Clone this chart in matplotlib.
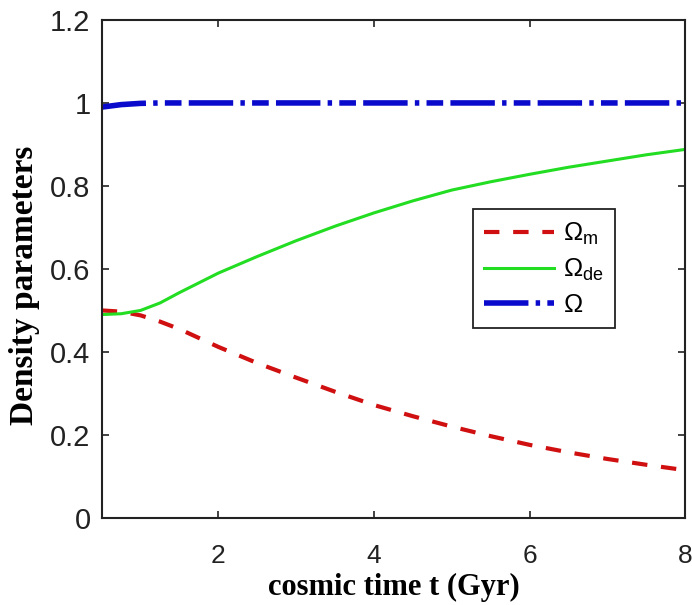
import matplotlib.pyplot as plt

t = [0.5, 0.75, 1.0, 1.25, 1.5, 2.0, 2.5, 3.0, 3.5, 4.0, 4.5, 5.0, 5.5, 6.0, 6.5, 7.0, 7.5, 8.0]
omega_m = [0.500, 0.497, 0.488, 0.473, 0.455, 0.412, 0.373, 0.338, 0.304, 0.272, 0.245, 0.220, 0.197, 0.176, 0.158, 0.142, 0.128, 0.115]
omega_de = [0.490, 0.492, 0.500, 0.518, 0.543, 0.590, 0.630, 0.668, 0.703, 0.735, 0.764, 0.790, 0.810, 0.828, 0.845, 0.860, 0.875, 0.888]
omega = [0.990, 0.996, 0.999, 1.0, 1.0, 1.0, 1.0, 1.0, 1.0, 1.0, 1.0, 1.0, 1.0, 1.0, 1.0, 1.0, 1.0, 1.0]

plt.rcParams['font.family'] = ['Liberation Sans', 'DejaVu Sans']
plt.rcParams['mathtext.fontset'] = 'custom'
plt.rcParams['mathtext.rm'] = 'Liberation Sans'

fig, ax = plt.subplots(figsize=(6.92, 6.05), dpi=100)
fig.subplots_adjust(left=0.147, right=0.99, top=0.967, bottom=0.144)

ax.plot(t, omega_m, color='#d01010', linestyle=(0, (3.7, 3.3)), linewidth=3, label=r'$\mathregular{\Omega_m}$')
ax.plot(t, omega_de, color='#22dd22', linestyle='-', linewidth=2.2, label=r'$\mathregular{\Omega_{de}}$')
ax.plot(t, omega, color='#0a0acc', linestyle=(0, (8, 1.3, 0.8, 1.3, 3, 1.3)), linewidth=4, label=r'$\mathregular{\Omega}$')

ax.set_xlim(0.5, 8)
ax.set_ylim(0, 1.2)
ax.set_xticks([2, 4, 6, 8])
ax.set_yticks([0, 0.2, 0.4, 0.6, 0.8, 1.0, 1.2])
ax.set_yticklabels(['0', '0.2', '0.4', '0.6', '0.8', '1', '1.2'])
ax.tick_params(direction='in', top=True, right=True, length=5, width=1.2, colors='#222222')
ax.tick_params(axis='y', labelsize=21, pad=8)
ax.tick_params(axis='x', labelsize=19, pad=19)
for s in ax.spines.values():
    s.set_linewidth(1.5)
    s.set_color('#222222')

ax.set_xlabel('cosmic time t (Gyr)', family='Liberation Serif', fontweight='bold', fontsize=22, labelpad=3)
ax.set_ylabel('Density parameters', family='Liberation Serif', fontweight='bold', fontsize=24)
ax.yaxis.set_label_coords(-0.106, 0.468)

leg = ax.legend(loc='upper left', bbox_to_anchor=(0.636, 0.62), borderaxespad=0, fontsize=18.5,
                fancybox=False, edgecolor='#222222', framealpha=1, handlelength=2.7,
                handletextpad=0.35, labelspacing=0.38, borderpad=0.45)
leg.get_frame().set_linewidth(1.3)

plt.savefig('out.png', dpi=100)
